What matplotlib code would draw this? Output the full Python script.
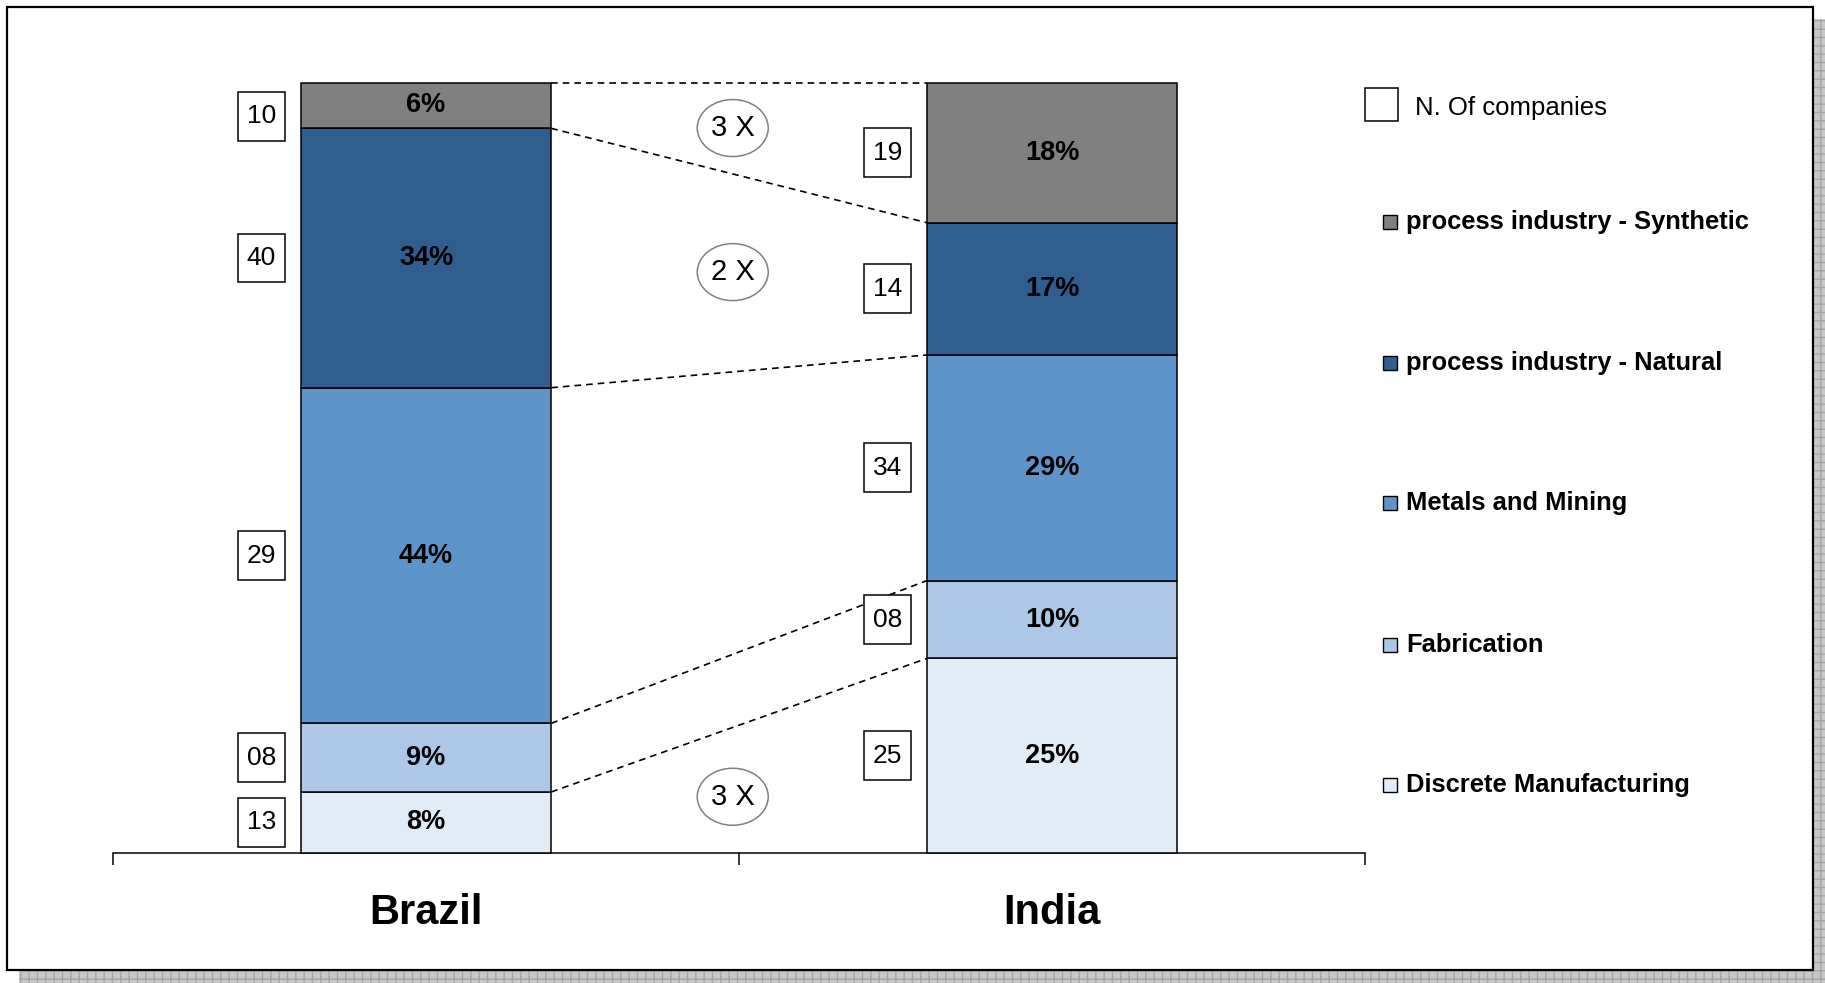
import matplotlib
matplotlib.use("Agg")
import matplotlib.pyplot as plt
from matplotlib import font_manager
from matplotlib.patches import Rectangle, Ellipse
import numpy as np

# data (bottom -> top)
countries = ["Brazil", "India"]
segments = ["Discrete Manufacturing", "Fabrication", "Metals and Mining",
            "process industry - Natural", "process industry - Synthetic"]
brazil_pct = [8, 9, 44, 34, 6]
india_pct = [25, 10, 29, 17, 18]
brazil_companies = [13, 8, 29, 40, 10]
india_companies = [25, 8, 34, 14, 19]
colors = ["#E2ECF7", "#ADC8E6", "#5F94CA", "#2F5E8F", "#808080"]

# growth call-outs between the columns
multipliers = ["3 X", "2 X", "3 X"]
multiplier_y = [94.1, 75.4, 7.3]

W, H = 1825, 983
names = {f.name for f in font_manager.fontManager.ttflist}
NARROW = "Liberation Sans Narrow" if "Liberation Sans Narrow" in names else "Liberation Sans"
plt.rcParams["font.family"] = ["Liberation Sans", "DejaVu Sans"]


def fx(px):
    return px / W


def fy(py):
    return 1 - py / H


fig = plt.figure(figsize=(W / 100, H / 100), dpi=100)

# shadow and frame
fig.patches.append(Rectangle((fx(19), fy(983)), (W - 19) / W, (983 - 19) / H,
                             transform=fig.transFigure, facecolor="#C8C8C8",
                             edgecolor="#A6A6A6", hatch="++", lw=0, zorder=-3))
fig.patches.append(Rectangle((fx(7), fy(970)), (1813 - 7) / W, (970 - 7) / H,
                             transform=fig.transFigure, facecolor="white",
                             edgecolor="black", lw=1.6, zorder=-2))

ax = fig.add_axes([fx(113), fy(853), (1365 - 113) / W, (853 - 82.6) / H])
ax.set_facecolor("none")

values = np.array([brazil_pct, india_pct], dtype=float)
heights = values / values.sum(axis=1, keepdims=True) * 100
counts = np.array([brazil_companies, india_companies])
x = np.arange(len(countries))
bw = 0.4

bottoms = np.zeros(len(countries))
for k, seg in enumerate(segments):
    h = heights[:, k]
    ax.bar(x, h, bottom=bottoms, width=bw, color=colors[k],
           edgecolor="black", lw=1.1, zorder=3, clip_on=False)
    for i in range(len(countries)):
        yc = bottoms[i] + h[i] / 2
        ax.text(x[i], yc, f"{values[i, k]:.0f}%", ha="center", va="center",
                fontsize=19.5, fontweight="bold", family=NARROW, zorder=4)
        by = min(max(yc, 4.0), 95.6)
        bx = x[i] - 0.263
        ax.add_patch(Rectangle((bx - 0.037, by - 3.17), 0.074, 6.34,
                               facecolor="white", edgecolor="black", lw=1.1, zorder=3))
        ax.text(bx, by, f"{counts[i, k]:02d}", ha="center", va="center",
                fontsize=19, family=NARROW, zorder=4)
    bottoms = bottoms + h

# dashed connectors between segment boundaries
cum = np.cumsum(heights, axis=1)
for k in range(len(segments)):
    ax.plot([x[0] + bw / 2, x[1] - bw / 2], [cum[0, k], cum[1, k]],
            color="black", lw=1.2, ls=(0, (4, 3)), zorder=2, clip_on=False)

for lab, yy in zip(multipliers, multiplier_y):
    ax.add_patch(Ellipse((0.49, yy), 0.1134, 7.4, facecolor="white",
                         edgecolor="#808080", lw=1.1, zorder=3))
    ax.text(0.49, yy, lab, ha="center", va="center", fontsize=21, zorder=4)

ax.set_xlim(-0.5, 1.5)
ax.set_ylim(0, 100)
for s in ["top", "left", "right"]:
    ax.spines[s].set_visible(False)
ax.spines["bottom"].set_linewidth(1.1)
ax.set_yticks([])
ax.set_xticks([-0.5, 0.5, 1.5])
ax.set_xticklabels([])
ax.tick_params(axis="x", which="major", length=8.5, width=1.1, direction="out")
for i, c in enumerate(countries):
    ax.text(x[i], -0.078, c, transform=ax.get_xaxis_transform(), ha="center",
            va="center", fontsize=30, fontweight="bold", family=NARROW)

# legend
fig.patches.append(Rectangle((fx(1365), fy(121)), 33 / W, 33 / H,
                             transform=fig.transFigure, facecolor="white",
                             edgecolor="black", lw=1.1))
fig.text(fx(1415), fy(108), "N. Of companies", ha="left", va="center", fontsize=18.5)
leg_y = [785, 645, 503, 363, 222]
for k, seg in enumerate(segments):
    fig.patches.append(Rectangle((fx(1383), fy(leg_y[k] + 7)), 14 / W, 14 / H,
                                 transform=fig.transFigure, facecolor=colors[k],
                                 edgecolor="black", lw=1.0))
    fig.text(fx(1406), fy(leg_y[k]), seg, ha="left", va="center",
             fontsize=18.4, fontweight="bold")

fig.savefig("out.png", dpi=100)
